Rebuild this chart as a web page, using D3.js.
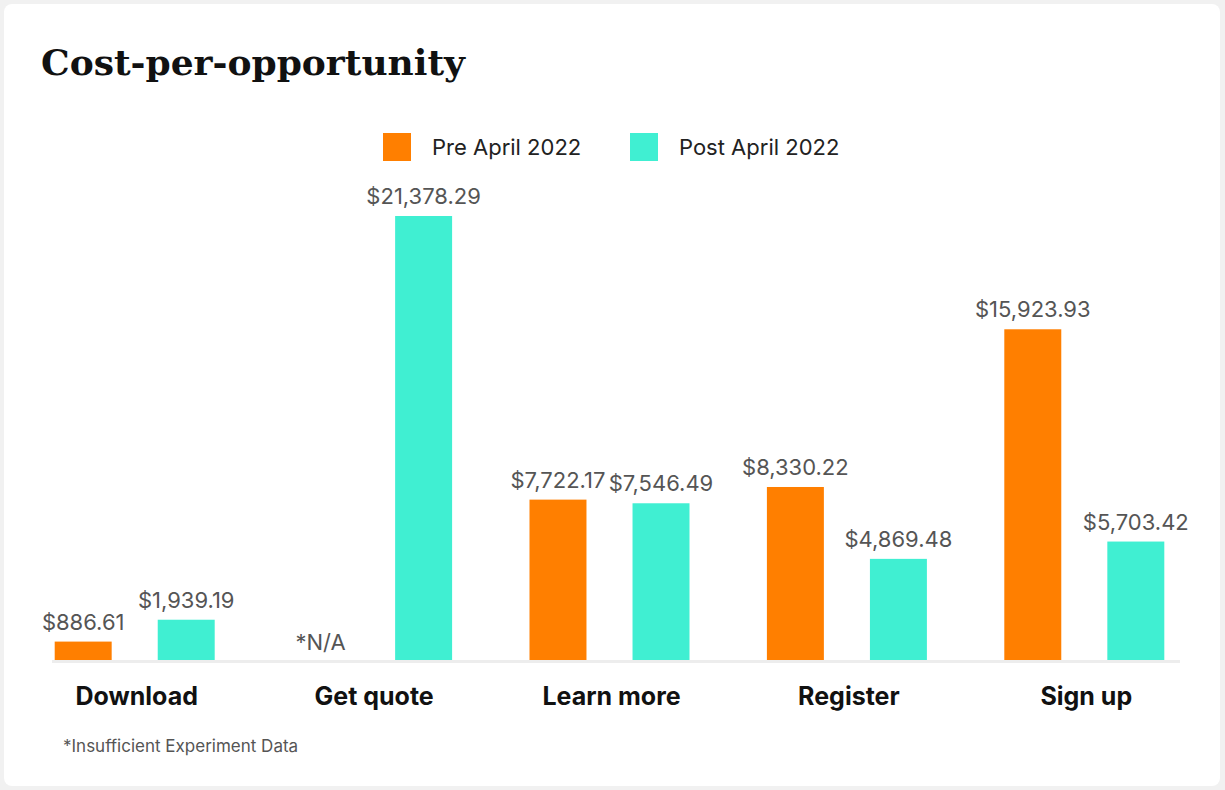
<!DOCTYPE html>
<html>
<head>
<meta charset="utf-8">
<script src="https://cdn.jsdelivr.net/npm/d3@7"></script>
<style>
  body { margin: 0; background: #f1f1f1; }
  #chart { position: absolute; left: 0; top: 0; }
</style>
</head>
<body>
<div id="chart"></div>
<script>
// chart data
const categories = ["Download", "Get quote", "Learn more", "Register", "Sign up"];
const seriesNames = ["Pre April 2022", "Post April 2022"];
const preValues = [886.61, null, 7722.17, 8330.22, 15923.93];   // null = insufficient data
const postValues = [1939.19, 21378.29, 7546.49, 4869.48, 5703.42];
const colors = ["#ff7f00", "#40efd2"];

const width = 1225;
const height = 790;
const baseY = 660;

const svg = d3.select("#chart")
  .append("svg")
  .attr("width", width)
  .attr("height", height);

// white card
svg.append("rect")
  .attr("x", 4).attr("y", 4)
  .attr("width", 1216).attr("height", 782)
  .attr("rx", 8)
  .attr("fill", "#ffffff");

// title
svg.append("text")
  .attr("x", 41).attr("y", 75)
  .attr("font-family", "DejaVu Serif")
  .attr("font-weight", "bold")
  .attr("font-size", 36)
  .attr("fill", "#111")
  .text("Cost-per-opportunity");

// build a row per category
const rows = categories.map((c, i) => ({
  name: c,
  values: [preValues[i], postValues[i]]
}));

// scales
const x0 = d3.scaleBand()
  .domain(categories)
  .range([18, 1205]);

const bw = x0.bandwidth();
const x1 = d3.scaleBand()
  .domain(d3.range(seriesNames.length))
  .range([bw / 2 - 82, bw / 2 + 78])
  .paddingInner(0.447);

const y = d3.scaleLinear()
  .domain([0, d3.max(postValues.concat(preValues))])
  .range([baseY, 216]);

// legend
const legend = svg.append("g")
  .attr("font-family", "Inter, 'Noto Sans', sans-serif")
  .attr("font-size", 22)
  .attr("fill", "#222");

const legendX = [383, 630];
seriesNames.forEach((s, i) => {
  legend.append("rect")
    .attr("x", legendX[i]).attr("y", 133)
    .attr("width", 28).attr("height", 28)
    .attr("fill", colors[i]);
  legend.append("text")
    .attr("x", legendX[i] + 49).attr("y", 155)
    .text(s);
});

// baseline
svg.append("line")
  .attr("x1", 52).attr("x2", 1180)
  .attr("y1", baseY + 1.5).attr("y2", baseY + 1.5)
  .attr("stroke", "#ededed")
  .attr("stroke-width", 3);

// bars
const groups = svg.selectAll(".group")
  .data(rows)
  .enter()
  .append("g")
  .attr("class", "group")
  .attr("transform", d => `translate(${x0(d.name)},0)`);

const fmt = d3.format(",.2f");

groups.selectAll("rect")
  .data(d => d.values.map((v, i) => ({ v: v, i: i })).filter(d => d.v !== null))
  .enter()
  .append("rect")
  .attr("x", d => x1(d.i))
  .attr("y", d => y(d.v))
  .attr("width", x1.bandwidth())
  .attr("height", d => baseY - y(d.v))
  .attr("fill", d => colors[d.i]);

// value labels
groups.selectAll(".val")
  .data(d => d.values.map((v, i) => ({ v: v, i: i })))
  .enter()
  .append("text")
  .attr("class", "val")
  .attr("x", d => x1(d.i) + x1.bandwidth() / 2)
  .attr("y", d => d.v === null ? baseY - 10 : y(d.v) - 12)
  .attr("text-anchor", "middle")
  .attr("font-family", "Inter, 'Noto Sans', sans-serif")
  .attr("font-size", 22)
  .attr("fill", "#555")
  .text(d => d.v === null ? "*N/A" : "$" + fmt(d.v));

// category axis
const xAxis = svg.append("g")
  .attr("transform", `translate(0,${baseY + 45})`)
  .call(d3.axisBottom(x0).tickSize(0).tickPadding(0));
xAxis.select(".domain").remove();
xAxis.selectAll("text")
  .attr("dy", 0)
  .attr("font-family", "Inter, 'Noto Sans', sans-serif")
  .attr("font-weight", "bold")
  .attr("font-size", 25)
  .attr("fill", "#111");

// footnote
svg.append("text")
  .attr("x", 63).attr("y", 752)
  .attr("font-family", "Inter, 'Noto Sans', sans-serif")
  .attr("font-size", 17)
  .attr("fill", "#555")
  .text("*Insufficient Experiment Data");
</script>
</body>
</html>
